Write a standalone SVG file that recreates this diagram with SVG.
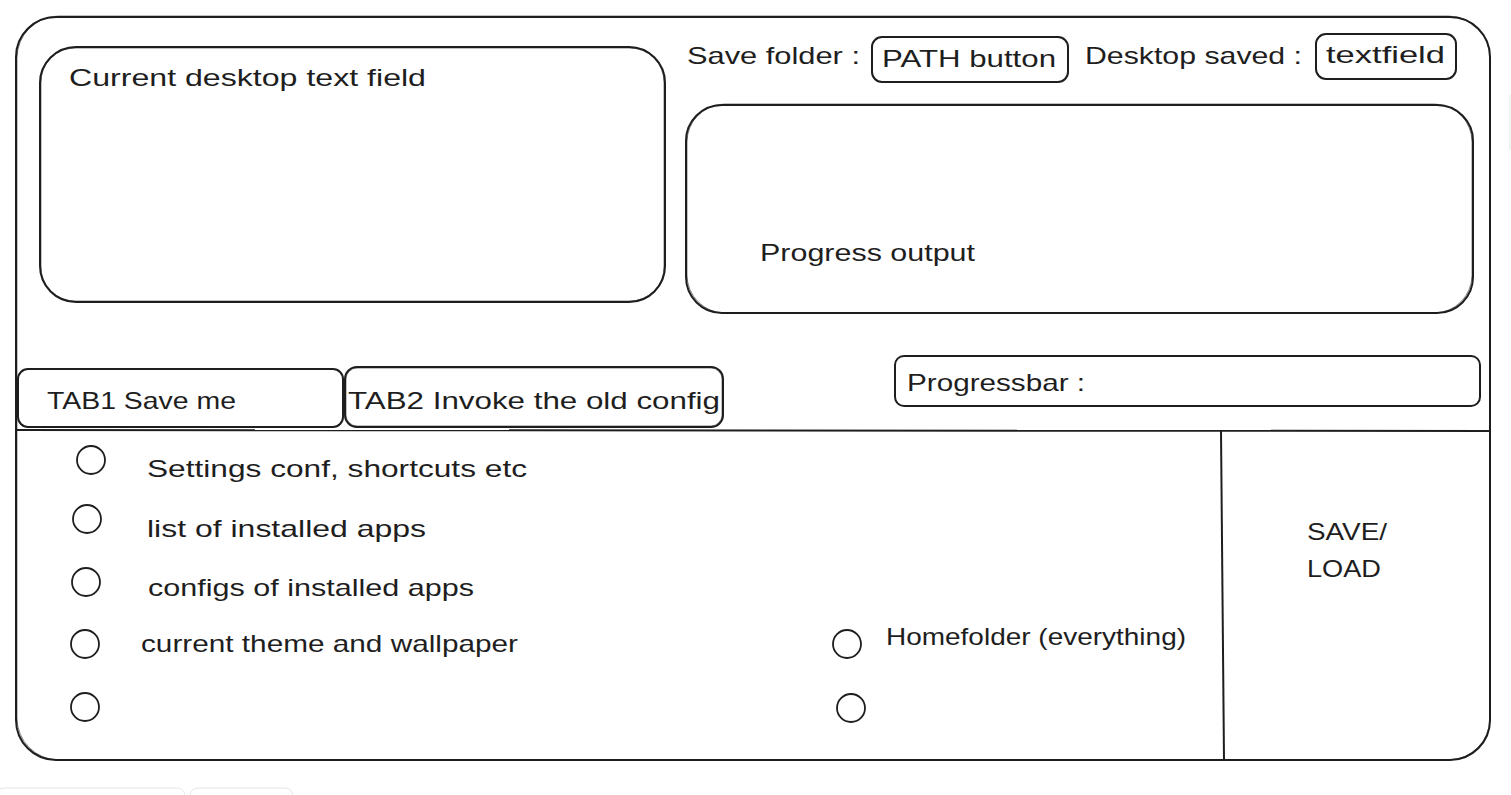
<svg xmlns="http://www.w3.org/2000/svg" width="1511" height="795" viewBox="0 0 1511 795">
  <style>
    .box { fill: none; stroke: #1e1e1e; stroke-width: 2; stroke-linejoin: round; }
    .ghost { fill: none; stroke: #1e1e1e; stroke-width: 1; opacity: 0.55; }
    .ln { stroke: #1e1e1e; stroke-width: 2; fill: none; }
    .t { font-family: "Liberation Sans", "DejaVu Sans", sans-serif; font-size: 24px; fill: #1e1e1e; }
    .radio { fill: none; stroke: #1e1e1e; stroke-width: 1.8; }
  </style>
  <rect width="1511" height="795" fill="#ffffff"/>

  <!-- window frame -->
  <g id="frame">
    <rect class="box" x="16" y="17" width="1474" height="743" rx="40"/>
    <rect class="ghost" x="17" y="16" width="1473" height="744" rx="42"/>
  </g>

  <!-- panel dividers -->
  <g id="connectors">
    <path class="ln" d="M16 430 L1490 431"/>
    <path class="ln" d="M1221 431 L1224 760"/>
  </g>

  <g id="current-desktop">
    <rect class="box" x="40" y="47" width="625" height="255" rx="36"/>
    <rect class="ghost" x="41" y="48" width="623" height="253" rx="34"/>
    <text class="t" x="69" y="86" textLength="357" lengthAdjust="spacingAndGlyphs">Current desktop text field</text>
  </g>

  <g id="save-folder">
    <text class="t" x="687" y="64" textLength="173" lengthAdjust="spacingAndGlyphs">Save folder :</text>
  </g>

  <g id="path-button">
    <rect class="box" x="872" y="37" width="196" height="45" rx="10"/>
    <text class="t" x="882" y="67" textLength="174" lengthAdjust="spacingAndGlyphs">PATH button</text>
  </g>

  <g id="desktop-saved">
    <text class="t" x="1085" y="64" textLength="217" lengthAdjust="spacingAndGlyphs">Desktop saved :</text>
  </g>

  <g id="textfield">
    <rect class="box" x="1316" y="34" width="140" height="45" rx="10"/>
    <text class="t" x="1326" y="63" textLength="119" lengthAdjust="spacingAndGlyphs">textfield</text>
  </g>

  <g id="progress-output">
    <rect class="box" x="686" y="105" width="787" height="208" rx="36"/>
    <rect class="ghost" x="687" y="104" width="785" height="209" rx="38"/>
    <text class="t" x="760" y="261" textLength="215" lengthAdjust="spacingAndGlyphs">Progress output</text>
  </g>

  <g id="progressbar">
    <rect class="box" x="895" y="356" width="585" height="50" rx="9"/>
    <text class="t" x="907" y="391" textLength="178" lengthAdjust="spacingAndGlyphs">Progressbar :</text>
  </g>

  <g id="tab1">
    <rect class="box" x="18" y="369" width="325" height="58" rx="10"/>
    <text class="t" x="47" y="409" textLength="189" lengthAdjust="spacingAndGlyphs">TAB1 Save me</text>
  </g>

  <g id="tab2">
    <rect class="box" x="345" y="367" width="378" height="60" rx="12"/>
    <rect class="ghost" x="346" y="368" width="376" height="58" rx="11"/>
    <text class="t" x="348" y="409" textLength="372" lengthAdjust="spacingAndGlyphs">TAB2 Invoke the old config</text>
  </g>

  <g id="opt-settings">
    <circle class="radio" cx="91" cy="460" r="14"/>
    <text class="t" x="147" y="477" textLength="380" lengthAdjust="spacingAndGlyphs">Settings conf, shortcuts etc</text>
  </g>

  <g id="opt-apps">
    <circle class="radio" cx="87" cy="519" r="14"/>
    <text class="t" x="147" y="537" textLength="279" lengthAdjust="spacingAndGlyphs">list of installed apps</text>
  </g>

  <g id="opt-configs">
    <circle class="radio" cx="86" cy="582" r="14"/>
    <text class="t" x="148" y="596" textLength="326" lengthAdjust="spacingAndGlyphs">configs of installed apps</text>
  </g>

  <g id="opt-theme">
    <circle class="radio" cx="85" cy="644" r="14"/>
    <text class="t" x="141" y="652" textLength="377" lengthAdjust="spacingAndGlyphs">current theme and wallpaper</text>
  </g>

  <g id="opt-empty-left">
    <circle class="radio" cx="85" cy="707" r="14"/>
  </g>

  <g id="opt-home">
    <circle class="radio" cx="847" cy="644" r="14"/>
    <text class="t" x="886" y="645" textLength="300" lengthAdjust="spacingAndGlyphs">Homefolder (everything)</text>
  </g>

  <g id="opt-empty-right">
    <circle class="radio" cx="851" cy="708" r="14"/>
  </g>

  <g id="save-load">
    <text class="t" x="1307" y="540" textLength="80" lengthAdjust="spacingAndGlyphs">SAVE/</text>
    <text class="t" x="1307" y="577" textLength="74" lengthAdjust="spacingAndGlyphs">LOAD</text>
  </g>

  <!-- faint edge marks along the border -->
  <g id="edge-marks" fill="none" stroke="#e6e6e6" stroke-width="1">
    <path d="M1510 95 L1510 150"/>
    <rect x="-4" y="788" width="189" height="20" rx="8"/>
    <rect x="190" y="788" width="103" height="20" rx="8"/>
  </g>
</svg>
